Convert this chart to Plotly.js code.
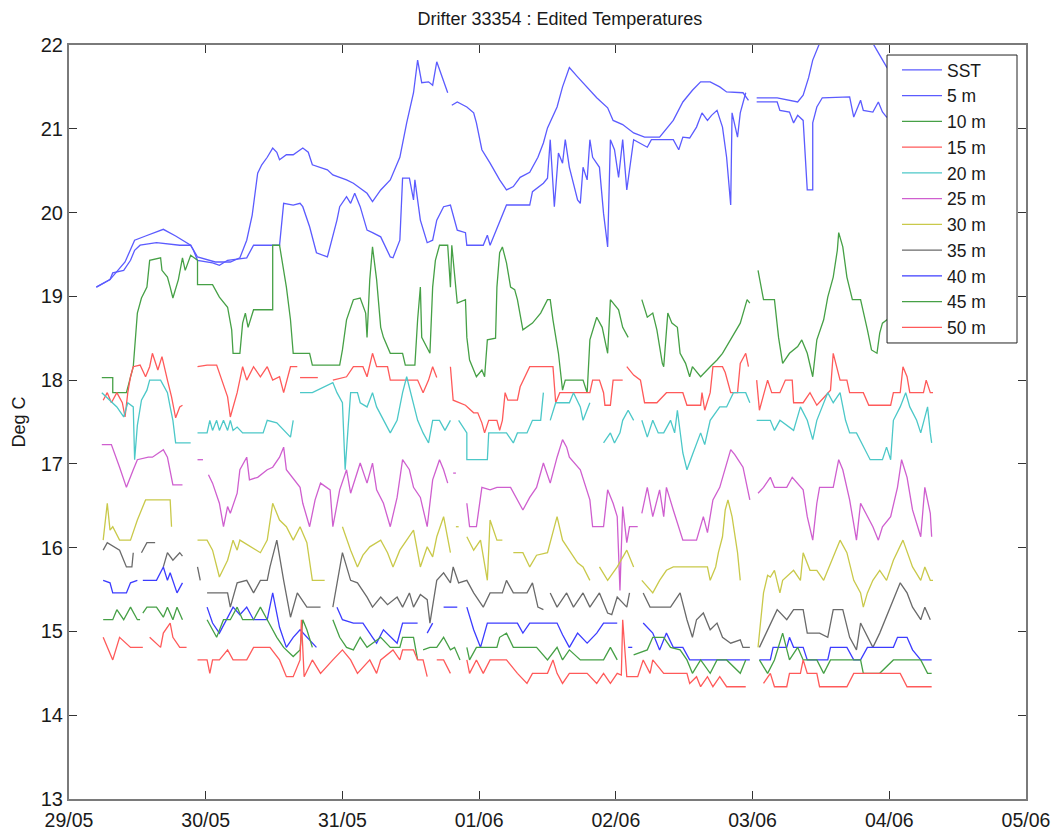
<!DOCTYPE html>
<html>
<head>
<meta charset="utf-8">
<script src="https://cdn.plot.ly/plotly-3.0.1.min.js"></script>
<style>
  html, body { margin: 0; padding: 0; background: #ffffff; }
  #chart { width: 1057px; height: 830px; }
</style>
</head>
<body>
<div id="chart"></div>
<script>
// Drifter 33354 – edited temperature records, time in days from 29/05 00:00.
// Each record is a list of [day, temperature °C]; [null, null] marks a data gap.

const dayTicks = [0, 1, 2, 3, 4, 5, 6, 7];
const dayLabels = ['29/05', '30/05', '31/05', '01/06', '02/06', '03/06', '04/06', '05/06'];
const tempTicks = [13, 14, 15, 16, 17, 18, 19, 20, 21, 22];

const seriesNames = ['SST', '5 m', '10 m', '15 m', '20 m', '25 m', '30 m', '35 m', '40 m', '45 m', '50 m'];

const sst = [[0.20,19.11],[0.30,19.20],[0.41,19.41],[0.48,19.67],[0.56,19.72],[0.67,19.79],[0.69,19.80],[0.78,19.72],[0.89,19.61],[0.94,19.47],[1.07,19.41],[1.18,19.41],[1.25,19.46],[1.30,19.67],[1.34,19.97],[1.38,20.47],[1.41,20.57],[1.45,20.66],[1.49,20.77],[1.52,20.72],[1.54,20.63],[1.59,20.69],[1.64,20.69],[1.71,20.77],[1.75,20.72],[1.78,20.57],[1.89,20.51],[1.93,20.45],[2.03,20.39],[2.08,20.35],[2.18,20.23],[2.22,20.13],[2.28,20.27],[2.35,20.39],[2.42,20.66],[2.47,21.07],[2.52,21.43],[2.55,21.82],[2.58,21.55],[2.63,21.56],[2.66,21.52],[2.69,21.80],[2.73,21.62],[2.77,21.43],[null,null],[2.80,21.28],[2.84,21.32],[2.91,21.26],[2.96,21.19],[2.98,21.07],[3.02,20.75],[3.08,20.59],[3.15,20.39],[3.20,20.27],[3.25,20.31],[3.30,20.42],[3.37,20.48],[3.43,20.66],[3.47,20.83],[3.50,21.01],[3.57,21.26],[3.61,21.50],[3.66,21.73],[3.72,21.62],[3.79,21.50],[3.86,21.37],[3.94,21.25],[3.98,21.10],[4.05,21.05],[4.13,20.95],[4.21,20.90],[4.32,20.90],[4.42,21.10],[4.49,21.32],[4.56,21.46],[4.62,21.56],[4.69,21.56],[4.76,21.50],[4.81,21.44],[4.93,21.43],[4.97,21.34],[null,null],[5.03,21.37],[5.18,21.37],[5.33,21.32],[5.37,21.40],[5.41,21.61],[5.44,21.82],[5.53,22.18],[5.71,22.30],[5.85,22.12],[5.88,22.02],[5.93,21.88],[5.98,21.74],[6.08,21.52],[6.23,21.34],[6.33,21.28]];

const t05m = [[0.20,19.11],[0.30,19.20],[0.32,19.28],[0.40,19.31],[0.45,19.43],[0.48,19.55],[0.52,19.61],[0.64,19.64],[0.81,19.61],[0.89,19.61],[0.91,19.55],[0.94,19.43],[1.05,19.40],[1.10,19.37],[1.16,19.43],[1.30,19.46],[1.35,19.61],[1.47,19.61],[1.54,19.61],[1.57,20.11],[1.64,20.09],[1.69,20.11],[1.71,20.07],[1.76,19.83],[1.81,19.52],[1.89,19.47],[1.91,19.59],[1.96,19.91],[1.98,20.07],[2.03,20.19],[2.06,20.11],[2.09,20.23],[2.13,20.07],[2.18,19.79],[2.22,19.76],[2.28,19.71],[2.35,19.47],[2.37,19.46],[2.42,19.67],[2.44,20.41],[2.49,20.41],[2.52,20.15],[2.53,20.39],[2.57,19.91],[2.62,19.64],[2.66,19.67],[2.69,19.91],[2.74,20.07],[2.79,20.09],[2.84,19.79],[2.90,19.76],[2.91,19.61],[3.03,19.61],[3.06,19.73],[3.08,19.61],[3.14,19.85],[3.15,19.91],[3.20,20.09],[3.37,20.09],[3.39,20.25],[3.47,20.35],[3.50,20.41],[3.52,20.87],[3.55,20.07],[3.58,20.71],[3.61,20.59],[3.63,20.87],[3.66,20.54],[3.72,20.15],[3.74,20.11],[3.76,20.54],[3.79,20.39],[3.81,20.87],[3.83,20.66],[3.88,20.54],[3.91,19.99],[3.94,19.59],[3.96,20.87],[3.99,20.75],[4.02,20.42],[4.05,20.87],[4.08,20.27],[4.13,20.87],[4.23,20.78],[4.26,20.87],[4.32,20.87],[4.42,20.87],[4.46,20.75],[4.49,20.90],[4.54,20.89],[4.59,21.02],[4.63,21.19],[4.67,21.10],[4.70,21.16],[4.74,21.22],[4.78,21.02],[4.81,20.66],[4.84,20.09],[4.85,21.19],[4.89,20.90],[4.91,21.19],[4.95,21.43],[null,null],[5.03,21.32],[5.18,21.32],[5.20,21.22],[5.27,21.20],[5.30,21.07],[5.33,21.16],[5.37,21.10],[5.40,20.27],[5.44,20.27],[5.44,21.07],[5.47,21.26],[5.51,21.37],[5.71,21.38],[5.74,21.14],[5.79,21.34],[5.81,21.22],[5.88,21.20],[5.92,21.32],[5.95,21.20],[5.98,21.14],[6.15,21.22],[6.33,21.20]];

const t10m = [[0.24,18.03],[0.32,18.03],[0.32,17.85],[0.42,17.85],[0.47,18.16],[0.50,18.80],[0.53,18.98],[0.57,19.11],[0.59,19.43],[0.67,19.46],[0.68,19.31],[0.72,19.23],[0.74,19.11],[0.76,18.98],[0.80,19.20],[0.83,19.46],[0.85,19.31],[0.89,19.49],[0.94,19.43],[0.94,19.14],[1.05,19.14],[1.10,18.99],[1.16,18.87],[1.19,18.60],[1.20,18.32],[1.25,18.32],[1.27,18.68],[1.29,18.80],[1.31,18.63],[1.35,18.84],[1.49,18.84],[1.49,19.61],[1.54,19.61],[1.56,19.43],[1.59,19.11],[1.62,18.72],[1.64,18.32],[1.76,18.32],[1.78,18.18],[1.98,18.18],[2.00,18.36],[2.03,18.72],[2.08,18.96],[2.13,18.98],[2.17,18.80],[2.18,18.51],[2.20,19.20],[2.22,19.59],[2.25,19.20],[2.28,18.63],[2.30,18.51],[2.35,18.32],[2.44,18.32],[2.46,18.18],[2.53,18.18],[2.55,18.72],[2.57,19.11],[2.58,18.51],[2.64,18.32],[2.66,19.11],[2.68,19.43],[2.71,19.61],[2.77,19.61],[2.79,19.11],[2.80,19.61],[2.84,18.92],[2.90,18.96],[2.91,18.51],[2.93,18.24],[2.98,18.04],[3.02,18.12],[3.04,18.04],[3.06,18.48],[3.12,18.50],[3.13,19.11],[3.15,19.52],[3.17,19.59],[3.20,19.40],[3.23,19.11],[3.26,19.08],[3.28,18.96],[3.32,18.60],[3.39,18.68],[3.45,18.80],[3.50,18.96],[3.52,18.96],[3.54,18.72],[3.58,18.32],[3.61,17.88],[3.63,18.00],[3.76,18.00],[3.79,17.85],[3.81,18.48],[3.86,18.75],[3.90,18.63],[3.94,18.32],[3.96,18.96],[4.02,18.84],[4.05,18.63],[4.09,18.51],[null,null],[4.19,18.96],[4.23,18.75],[4.27,18.80],[4.30,18.60],[4.34,18.20],[4.35,18.16],[4.38,18.80],[4.41,18.68],[4.45,18.63],[4.47,18.32],[4.51,18.20],[4.54,18.04],[4.56,18.16],[4.62,18.04],[4.69,18.16],[4.74,18.24],[4.78,18.32],[4.84,18.48],[4.91,18.68],[4.96,18.96],[4.98,18.92],[null,null],[5.04,19.31],[5.08,18.96],[5.16,18.96],[5.19,18.51],[5.22,18.20],[5.27,18.32],[5.33,18.40],[5.36,18.48],[5.40,18.32],[5.44,18.04],[5.47,18.48],[5.52,18.72],[5.55,18.99],[5.59,19.23],[5.62,19.55],[5.63,19.76],[5.66,19.59],[5.69,19.23],[5.73,18.96],[5.79,18.96],[5.84,18.60],[5.87,18.36],[5.91,18.32],[5.93,18.56],[5.95,18.68],[6.08,18.84],[6.23,18.72],[6.33,18.96]];

const t15m = [[0.25,17.76],[0.28,17.85],[0.31,17.73],[0.35,17.85],[0.39,17.73],[0.41,17.56],[0.43,17.85],[0.45,18.04],[0.47,18.16],[0.52,18.18],[0.56,18.04],[0.59,18.16],[0.61,18.32],[0.65,18.12],[0.68,18.28],[0.70,18.12],[0.72,18.00],[0.75,17.80],[0.78,17.55],[0.81,17.68],[0.83,17.70],[null,null],[0.94,18.16],[1.01,18.18],[1.08,18.18],[1.10,18.09],[1.16,17.80],[1.18,17.56],[1.23,17.85],[1.27,18.16],[1.30,18.00],[1.35,18.16],[1.40,18.04],[1.45,18.16],[1.49,18.00],[1.54,18.04],[1.57,17.85],[1.62,18.16],[1.67,18.16],[null,null],[1.69,18.03],[1.82,18.03],[null,null],[1.93,18.00],[2.03,18.04],[2.08,18.16],[2.15,18.16],[2.18,18.04],[2.22,18.32],[2.25,18.16],[2.33,18.16],[2.35,18.00],[2.55,18.00],[2.59,17.85],[2.63,18.00],[2.66,18.16],[2.69,18.03],[null,null],[2.79,18.16],[2.81,17.76],[2.90,17.70],[2.96,17.61],[2.99,17.61],[3.02,17.49],[3.04,17.37],[3.07,17.52],[3.13,17.52],[3.15,17.40],[3.17,17.52],[3.19,17.85],[3.21,17.76],[3.28,17.76],[3.30,17.92],[3.37,18.16],[3.54,18.16],[3.56,17.73],[3.59,17.85],[3.81,17.85],[3.83,18.00],[3.88,18.00],[3.91,17.85],[3.92,17.70],[3.96,17.70],[3.98,18.00],[4.05,18.00],[null,null],[4.08,18.16],[4.13,18.06],[4.18,18.00],[4.21,17.73],[4.30,17.73],[4.37,17.85],[4.42,17.85],[4.49,17.85],[4.52,17.70],[4.62,17.70],[4.63,17.85],[4.65,17.64],[4.69,17.85],[4.71,18.16],[4.78,18.16],[4.80,18.09],[4.84,17.85],[4.89,17.85],[4.91,18.20],[4.95,18.32],[4.97,18.16],[null,null],[5.03,18.00],[5.05,17.64],[5.08,17.82],[5.11,18.00],[5.14,17.85],[5.20,17.85],[5.24,18.00],[5.29,18.00],[5.30,17.73],[5.37,17.73],[5.42,17.85],[5.47,17.70],[5.52,17.79],[5.57,17.88],[5.59,18.32],[5.64,18.00],[5.69,18.00],[5.71,17.85],[5.81,17.85],[5.85,17.70],[6.01,17.70],[6.03,17.85],[6.08,17.85],[6.10,18.16],[6.13,18.04],[6.15,17.85],[6.25,17.85],[6.27,18.00],[6.30,17.85],[6.32,17.85]];

const t20m = [[0.24,17.85],[0.30,17.76],[0.35,17.68],[0.40,17.56],[0.43,17.73],[0.47,17.68],[0.48,17.05],[0.50,17.46],[0.53,17.76],[0.57,17.88],[0.59,18.00],[0.67,18.00],[0.72,17.85],[0.74,17.68],[0.76,17.52],[0.78,17.25],[0.89,17.25],[null,null],[0.94,17.37],[1.01,17.37],[1.03,17.52],[1.05,17.40],[1.08,17.52],[1.10,17.40],[1.13,17.52],[1.16,17.40],[1.18,17.52],[1.20,17.40],[1.23,17.44],[1.27,17.37],[1.42,17.37],[1.45,17.52],[1.52,17.49],[1.57,17.40],[1.62,17.32],[1.64,17.52],[null,null],[1.69,17.85],[1.78,17.85],[1.93,17.97],[1.96,17.85],[2.00,17.73],[2.02,16.93],[2.04,17.40],[2.06,17.85],[2.11,17.85],[2.13,17.73],[2.18,17.68],[2.22,17.85],[2.25,17.68],[2.30,17.52],[2.35,17.37],[2.40,17.52],[2.44,17.85],[2.47,18.04],[2.52,17.73],[2.55,17.52],[2.59,17.37],[2.63,17.25],[2.66,17.52],[2.71,17.52],[2.75,17.40],[2.79,17.52],[null,null],[2.85,17.52],[2.91,17.37],[2.91,17.05],[3.06,17.05],[3.07,17.37],[3.20,17.37],[3.25,17.25],[3.28,17.37],[3.35,17.37],[3.39,17.52],[3.45,17.52],[3.47,17.85],[null,null],[3.52,17.52],[3.56,17.73],[3.66,17.73],[3.69,17.85],[3.74,17.68],[3.76,17.52],[3.81,17.73],[null,null],[3.91,17.25],[3.96,17.37],[3.99,17.25],[4.03,17.37],[4.05,17.52],[4.09,17.64],[4.13,17.52],[null,null],[4.19,17.52],[4.23,17.32],[4.27,17.52],[4.31,17.37],[4.35,17.37],[4.40,17.52],[4.43,17.37],[4.45,17.64],[4.49,17.13],[4.52,16.93],[4.56,17.11],[4.62,17.37],[4.65,17.23],[4.69,17.52],[4.76,17.68],[4.81,17.68],[4.86,17.85],[4.95,17.85],[4.98,17.73],[null,null],[5.03,17.52],[5.13,17.52],[5.16,17.40],[5.20,17.52],[5.30,17.40],[5.35,17.68],[5.40,17.52],[5.44,17.29],[5.47,17.52],[5.55,17.85],[5.59,17.73],[5.64,17.85],[5.68,17.52],[5.71,17.37],[5.76,17.37],[5.81,17.20],[5.86,17.05],[5.95,17.05],[5.98,17.20],[6.01,17.05],[6.03,17.52],[6.08,17.68],[6.12,17.85],[6.15,17.68],[6.20,17.52],[6.23,17.37],[6.28,17.68],[6.30,17.37],[6.31,17.25]];

const t25m = [[0.24,17.23],[0.31,17.23],[0.37,16.96],[0.42,16.72],[0.47,16.93],[0.50,17.05],[0.58,17.08],[0.61,17.08],[0.69,17.17],[0.72,17.08],[0.76,16.75],[0.83,16.75],[null,null],[0.94,17.05],[0.98,17.05],[null,null],[1.02,16.87],[1.05,16.77],[1.10,16.53],[1.13,16.25],[1.16,16.49],[1.18,16.41],[1.23,16.65],[1.25,16.93],[1.30,17.08],[1.32,16.81],[1.38,16.84],[1.45,16.93],[1.49,16.96],[1.54,17.08],[1.57,17.20],[1.59,16.93],[1.69,16.72],[1.71,16.53],[1.76,16.25],[1.80,16.57],[1.84,16.77],[1.91,16.69],[1.93,16.25],[1.98,16.69],[2.03,16.93],[2.06,16.65],[2.13,17.01],[2.18,16.77],[2.22,17.01],[2.25,16.69],[2.30,16.53],[2.35,16.25],[2.40,16.60],[2.44,17.05],[2.49,16.93],[2.52,16.72],[2.57,16.60],[2.62,16.25],[2.66,16.81],[2.71,17.05],[2.74,16.93],[2.77,16.77],[null,null],[2.81,16.89],[2.83,16.89],[null,null],[2.91,16.53],[2.93,16.25],[2.98,16.25],[3.02,16.72],[3.08,16.69],[3.13,16.72],[3.23,16.72],[3.28,16.57],[3.32,16.45],[3.37,16.60],[3.42,16.72],[3.47,17.01],[3.52,16.77],[3.57,17.08],[3.61,17.29],[3.64,17.20],[3.66,17.08],[3.74,16.93],[3.81,16.57],[3.83,16.25],[3.91,16.25],[3.94,16.69],[3.98,16.53],[4.01,16.37],[4.03,15.49],[4.05,16.49],[4.08,16.06],[4.10,16.25],[4.16,16.25],[null,null],[4.19,16.41],[4.23,16.72],[4.27,16.37],[4.32,16.69],[4.35,16.37],[4.37,16.72],[4.42,16.45],[4.49,16.09],[4.59,16.09],[4.64,16.37],[4.67,16.18],[4.71,16.57],[4.76,16.72],[4.78,16.84],[4.84,17.17],[4.87,17.11],[4.93,16.96],[4.98,16.57],[null,null],[5.04,16.65],[5.08,16.72],[5.13,16.84],[5.16,16.72],[5.25,16.72],[5.29,16.84],[5.37,16.69],[5.40,16.37],[5.44,16.09],[5.47,16.53],[5.49,16.72],[5.59,16.72],[5.63,17.05],[5.66,16.93],[5.71,16.57],[5.76,16.09],[5.79,16.53],[5.84,16.37],[5.88,16.25],[5.92,16.09],[5.95,16.25],[6.01,16.37],[6.06,16.72],[6.09,17.05],[6.13,16.84],[6.17,16.45],[6.23,16.13],[6.26,16.72],[6.30,16.41],[6.31,16.13]];

const t30m = [[0.25,16.09],[0.28,16.53],[0.30,16.21],[0.32,16.25],[0.37,16.09],[0.45,16.09],[0.50,16.33],[0.56,16.57],[0.74,16.57],[0.75,16.25],[null,null],[0.94,16.09],[1.01,16.09],[1.05,15.97],[1.10,15.65],[1.16,15.85],[1.20,16.09],[1.23,15.97],[1.25,16.09],[1.40,15.94],[1.45,16.09],[1.49,16.53],[1.54,16.33],[1.59,16.25],[1.64,16.09],[1.69,16.25],[1.74,16.06],[1.78,15.61],[1.87,15.61],[null,null],[2.00,16.25],[2.06,15.97],[2.11,15.77],[2.15,15.91],[2.20,16.01],[2.28,16.09],[2.33,15.94],[2.37,15.77],[2.42,15.97],[2.47,16.09],[2.52,16.21],[2.57,15.77],[2.62,16.01],[2.66,15.89],[2.69,16.13],[2.74,16.37],[2.79,15.94],[null,null],[2.83,16.25],[2.85,16.25],[null,null],[2.91,16.13],[2.96,15.97],[3.01,16.09],[3.06,15.61],[3.08,16.33],[3.13,16.09],[3.17,16.09],[null,null],[3.25,15.94],[3.32,15.94],[3.37,15.77],[3.42,15.91],[3.50,15.94],[3.57,16.37],[3.61,16.09],[3.66,15.97],[3.72,15.82],[3.76,15.77],[3.81,15.61],[null,null],[3.88,15.77],[3.94,15.61],[4.01,15.77],[4.08,15.97],[4.13,15.77],[null,null],[4.19,15.61],[4.27,15.46],[4.32,15.61],[4.37,15.73],[4.42,15.77],[4.67,15.77],[4.69,15.61],[4.73,15.77],[4.75,15.94],[4.78,16.13],[4.80,16.45],[4.82,16.57],[4.85,16.37],[4.89,15.94],[4.91,15.61],[null,null],[5.04,14.81],[5.08,15.46],[5.11,15.67],[5.13,15.65],[5.16,15.73],[5.20,15.46],[5.22,15.61],[5.30,15.73],[5.35,15.61],[5.37,15.94],[5.42,15.73],[5.47,15.73],[5.52,15.61],[5.57,15.82],[5.64,16.09],[5.69,15.94],[5.74,15.61],[5.79,15.46],[5.81,15.29],[5.84,15.46],[5.88,15.61],[5.93,15.73],[5.98,15.61],[6.03,15.85],[6.10,16.09],[6.17,15.77],[6.23,15.61],[6.26,15.77],[6.30,15.61],[6.32,15.61]];

const t35m = [[0.25,15.97],[0.28,16.06],[0.37,15.97],[0.42,15.77],[0.46,15.77],[0.47,15.94],[null,null],[0.53,15.94],[0.57,16.06],[0.63,16.06],[null,null],[0.69,15.77],[0.72,15.94],[0.76,15.85],[0.81,15.94],[0.83,15.90],[null,null],[0.94,15.77],[0.96,15.61],[null,null],[1.01,15.46],[1.16,15.46],[1.18,15.29],[1.23,15.58],[1.30,15.61],[1.35,15.46],[1.40,15.61],[1.45,15.61],[1.47,15.77],[1.52,16.09],[1.57,15.61],[1.62,15.17],[1.67,15.46],[1.74,15.29],[1.84,15.29],[null,null],[1.93,15.29],[2.00,15.94],[2.06,15.61],[2.11,15.58],[2.18,15.41],[2.22,15.29],[2.28,15.41],[2.33,15.32],[2.40,15.41],[2.44,15.29],[2.49,15.46],[2.52,15.29],[2.57,15.44],[2.62,15.38],[2.64,15.10],[2.69,15.61],[2.74,15.70],[2.79,15.58],[2.81,15.77],[2.85,15.58],[2.91,15.61],[2.96,15.46],[3.03,15.29],[3.08,15.46],[3.17,15.46],[3.20,15.61],[3.25,15.46],[3.35,15.46],[3.39,15.58],[3.43,15.29],[3.47,15.26],[null,null],[3.52,15.46],[3.57,15.29],[3.64,15.46],[3.69,15.29],[3.76,15.46],[3.81,15.29],[3.88,15.46],[3.94,15.22],[3.97,15.20],[4.01,15.41],[4.08,15.29],[4.10,15.46],[null,null],[4.20,15.46],[4.25,15.29],[4.40,15.29],[4.47,15.46],[4.52,15.14],[4.56,14.93],[4.59,15.14],[4.64,15.22],[4.69,15.02],[4.74,15.10],[4.78,14.93],[4.84,14.86],[4.91,14.90],[4.93,14.81],[4.98,14.81],[null,null],[5.05,14.81],[5.11,15.02],[5.15,15.14],[5.18,15.26],[5.25,15.14],[5.30,15.26],[5.37,15.26],[5.40,14.98],[5.49,14.98],[5.55,14.93],[5.59,15.26],[5.66,15.26],[5.71,14.93],[5.76,14.78],[5.79,15.10],[5.84,14.93],[5.88,14.81],[5.93,14.98],[6.01,15.29],[6.08,15.58],[6.13,15.46],[6.17,15.29],[6.23,15.14],[6.26,15.29],[6.30,15.14]];

const t40m = [[0.25,15.61],[0.30,15.58],[0.32,15.46],[0.42,15.46],[0.45,15.58],[0.50,15.61],[null,null],[0.54,15.61],[0.64,15.61],[0.69,15.77],[0.72,15.61],[0.74,15.70],[0.79,15.46],[0.83,15.58],[null,null],[1.01,15.29],[1.05,15.10],[1.10,14.98],[1.16,15.17],[1.20,15.29],[1.25,15.20],[1.30,15.29],[1.35,15.14],[1.45,15.14],[1.49,15.46],[1.54,15.05],[1.59,14.81],[1.64,14.93],[1.69,15.02],[1.74,14.93],[1.81,14.81],[null,null],[1.96,15.29],[2.00,15.14],[2.08,15.10],[2.15,15.10],[2.22,14.93],[2.25,14.86],[2.30,15.02],[2.40,14.86],[2.44,15.10],[2.55,15.10],[null,null],[2.62,14.98],[2.66,15.10],[null,null],[2.74,15.29],[2.84,15.29],[null,null],[2.91,15.29],[2.96,15.02],[3.01,14.81],[3.06,15.10],[3.28,15.10],[3.32,14.98],[3.37,15.10],[3.57,15.10],[3.61,14.96],[3.66,14.81],[3.72,14.98],[3.79,14.86],[3.86,14.98],[3.91,15.10],[4.01,15.10],[null,null],[4.09,14.81],[4.12,14.81],[null,null],[4.20,15.10],[4.27,14.98],[4.32,14.78],[4.37,14.98],[4.42,14.81],[4.49,14.81],[4.54,14.66],[4.98,14.66],[null,null],[5.05,14.66],[5.13,14.66],[5.15,14.81],[5.25,14.81],[5.27,14.93],[5.30,14.81],[5.37,14.81],[5.40,14.66],[5.55,14.66],[5.57,14.81],[5.69,14.81],[5.74,14.66],[5.79,14.66],[5.84,14.81],[6.03,14.81],[6.06,14.93],[6.13,14.93],[6.17,14.78],[6.23,14.66],[6.31,14.66]];

const t45m = [[0.25,15.14],[0.32,15.14],[0.35,15.26],[0.40,15.14],[0.45,15.29],[0.50,15.14],[0.52,15.14],[null,null],[0.54,15.22],[0.57,15.29],[0.64,15.29],[0.69,15.17],[0.72,15.29],[0.76,15.14],[0.79,15.29],[0.83,15.14],[null,null],[1.01,15.14],[1.08,14.93],[1.13,15.14],[1.18,15.14],[1.23,15.29],[1.27,15.14],[1.35,15.14],[1.40,15.29],[1.45,15.14],[1.52,14.93],[1.57,14.81],[1.64,14.70],[1.69,14.78],[1.71,15.14],[1.74,15.02],[1.78,14.81],[null,null],[1.93,15.14],[1.98,14.93],[2.03,14.81],[2.08,14.78],[2.13,14.93],[2.18,14.81],[2.28,14.93],[2.35,14.81],[2.42,14.81],[2.44,14.93],[2.52,14.93],[2.55,14.66],[null,null],[2.59,14.78],[2.64,14.81],[2.69,14.81],[2.74,14.93],[2.79,14.78],[2.82,14.81],[2.86,14.66],[null,null],[2.91,14.81],[2.93,14.66],[2.98,14.81],[3.13,14.81],[3.15,14.93],[3.20,14.98],[3.25,14.81],[3.42,14.81],[3.50,14.66],[3.57,14.81],[3.61,14.66],[3.66,14.78],[3.74,14.66],[3.91,14.66],[3.96,14.81],[4.01,14.66],[null,null],[4.13,14.72],[4.23,14.78],[4.27,14.93],[4.35,14.93],[4.40,14.81],[4.47,14.78],[4.52,14.66],[4.56,14.50],[4.62,14.66],[4.69,14.50],[4.74,14.66],[4.81,14.66],[4.91,14.50],[4.95,14.66],[null,null],[5.05,14.66],[5.11,14.50],[5.16,14.66],[5.22,14.98],[5.27,14.66],[5.33,14.81],[5.37,14.66],[5.47,14.66],[5.52,14.50],[5.57,14.66],[5.79,14.66],[5.81,14.50],[5.93,14.50],[6.03,14.66],[6.23,14.66],[6.28,14.50],[6.31,14.50]];

const t50m = [[0.25,14.93],[0.29,14.78],[0.32,14.66],[0.37,14.93],[0.45,14.81],[0.54,14.81],[null,null],[0.59,14.93],[0.67,14.81],[0.69,14.98],[0.74,15.10],[0.76,14.93],[0.81,14.81],[0.86,14.81],[null,null],[0.94,14.66],[1.01,14.66],[1.03,14.50],[1.05,14.66],[1.10,14.66],[1.16,14.78],[1.20,14.66],[1.30,14.66],[1.35,14.81],[1.47,14.81],[1.54,14.66],[1.59,14.46],[1.64,14.46],[1.69,14.66],[1.70,15.14],[1.72,14.46],[1.78,14.66],[1.84,14.50],[1.93,14.66],[2.00,14.78],[2.06,14.66],[2.11,14.50],[2.20,14.66],[2.25,14.50],[2.28,14.66],[2.37,14.78],[2.42,14.66],[2.44,14.78],[2.52,14.78],[2.55,14.66],[2.59,14.66],[2.62,14.46],[null,null],[2.69,14.66],[2.74,14.66],[2.79,14.50],[null,null],[2.91,14.66],[2.93,14.50],[2.98,14.66],[3.03,14.50],[3.08,14.66],[3.20,14.66],[3.28,14.50],[3.35,14.38],[3.39,14.50],[3.50,14.50],[3.54,14.66],[3.57,14.50],[3.61,14.38],[3.66,14.50],[3.79,14.50],[3.86,14.38],[3.91,14.50],[3.96,14.38],[4.01,14.50],[4.04,14.48],[4.05,15.14],[4.08,14.46],[4.16,14.46],[4.20,14.66],[4.25,14.50],[4.27,14.66],[4.35,14.50],[4.52,14.50],[4.54,14.38],[4.59,14.46],[4.62,14.34],[4.67,14.46],[4.71,14.34],[4.76,14.46],[4.81,14.34],[4.95,14.34],[null,null],[5.08,14.38],[5.13,14.50],[5.16,14.34],[5.25,14.34],[5.27,14.50],[5.35,14.50],[5.37,14.66],[5.40,14.50],[5.47,14.50],[5.49,14.34],[5.69,14.34],[5.74,14.50],[6.08,14.50],[6.13,14.34],[6.31,14.34]];

const seriesData = [sst, t05m, t10m, t15m, t20m, t25m, t30m, t35m, t40m, t45m, t50m];

// Line colours in plotting order (blue, green, red, cyan, magenta, yellow, dark grey, then repeat).
const lineColours = ['#5b5bff', '#5b5bff', '#46a046', '#ff5a5a', '#4cc8c8', '#cf5fcf', '#c9c94a', '#6a6a6a', '#3c3cff', '#46a046', '#ff5a5a'];

const FONT = 'Liberation Sans, Arial, Helvetica, sans-serif';

const traces = seriesData.map((rec, i) => ({
  type: 'scatter',
  mode: 'lines',
  name: seriesNames[i],
  x: rec.map(p => p[0]),
  y: rec.map(p => p[1]),
  connectgaps: false,
  line: { color: lineColours[i], width: 1.3 },
  hoverinfo: 'skip'
}));

const axisCommon = {
  showline: true,
  linecolor: '#7a7a7a',
  linewidth: 2,
  mirror: 'ticks',
  ticks: 'inside',
  ticklen: 8,
  tickwidth: 1,
  tickcolor: '#333333',
  showgrid: false,
  zeroline: false,
  tickfont: { family: FONT, size: 20, color: '#1a1a1a' }
};

const layout = {
  width: 1057,
  height: 830,
  margin: { l: 69, r: 31, t: 45, b: 31, pad: 0 },
  paper_bgcolor: '#ffffff',
  plot_bgcolor: '#ffffff',
  showlegend: true,
  title: {
    text: 'Drifter 33354 : Edited Temperatures',
    font: { family: FONT, size: 18, color: '#1a1a1a' },
    x: 0.513, xref: 'paper', xanchor: 'center',
    y: 0.978, yref: 'container', yanchor: 'middle'
  },
  xaxis: Object.assign({}, axisCommon, {
    range: [0, 7],
    tickmode: 'array',
    tickvals: dayTicks,
    ticktext: dayLabels,
    ticklabelstandoff: 3,
    tickfont: { family: FONT, size: 19.5, color: '#1a1a1a' }
  }),
  yaxis: Object.assign({}, axisCommon, {
    range: [13, 22],
    tickmode: 'array',
    tickvals: tempTicks,
    ticktext: tempTicks.map(String),
    title: { text: 'Deg C', font: { family: FONT, size: 18, color: '#1a1a1a' }, standoff: 10 }
  }),
  // Legend frame: white box drawn over the traces; the legend entries sit on top of it.
  shapes: [{
    type: 'rect', xref: 'paper', yref: 'paper', layer: 'above',
    x0: 0.8548, x1: 0.9906, y0: 0.6048, y1: 0.9867,
    fillcolor: '#ffffff',
    line: { color: '#222222', width: 1 }
  }],
  legend: {
    x: 0.8652, xanchor: 'left',
    y: 0.9907, yanchor: 'top',
    bgcolor: 'rgba(0,0,0,0)',
    borderwidth: 0,
    font: { family: FONT, size: 17.5, color: '#1a1a1a' },
    itemwidth: 40,
    traceorder: 'normal'
  }
};

Plotly.newPlot('chart', traces, layout, { staticPlot: true, displayModeBar: false });
</script>
</body>
</html>
